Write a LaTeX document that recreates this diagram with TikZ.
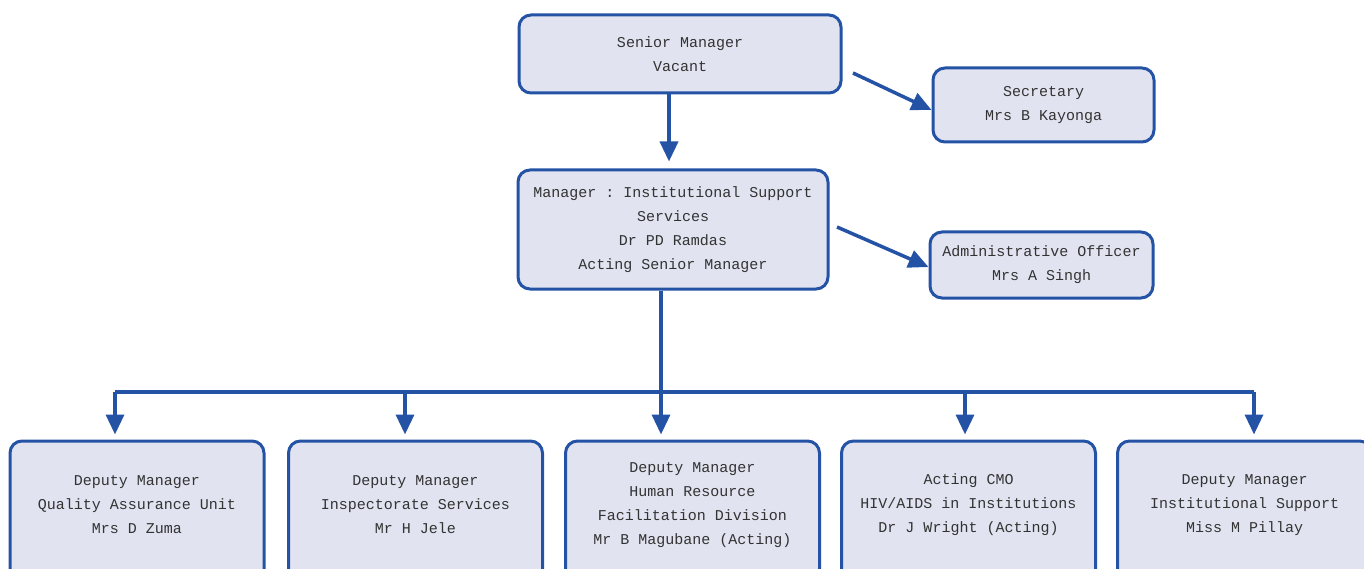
\documentclass[tikz,border=0pt]{standalone}
\usepackage{fontspec}
\setmonofont{Liberation Mono}
\usetikzlibrary{arrows.meta}
\definecolor{orgblue}{HTML}{2453A6}
\definecolor{orgfill}{HTML}{E1E3F0}
\definecolor{orgtext}{HTML}{333333}
\tikzset{
  box/.style={draw=orgblue, fill=orgfill, line width=3pt, rounded corners=12pt, inner sep=0pt},
  label text/.style={text=orgtext, align=center, inner sep=0pt,
    font=\ttfamily\fontsize{15}{24}\selectfont},
  link/.style={draw=orgblue, line width=3.5pt, -{Triangle[length=20pt,width=18pt]}},
  bus/.style={draw=orgblue, line width=3.5pt}
}
\begin{document}
\begin{tikzpicture}[x=1pt,y=-1pt]
  \useasboundingbox (0,0) rectangle (1364,569);
  \clip (0,0) rectangle (1364,569);

  % upper management
  \node[box, minimum width=322, minimum height=78] (sm) at (680,54) {};
  \node[label text] (smt) at (sm.center) {Senior Manager\\Vacant};

  \node[box, minimum width=221, minimum height=74] (sec) at (1043.5,105) {};
  \node[label text] (sect) at (sec.center) {Secretary\\Mrs B Kayonga};

  \node[box, minimum width=310, minimum height=119] (mis) at (673,229.5) {};
  \node[label text] (mist) at (mis.center) {Manager : Institutional Support\\Services\\Dr PD Ramdas\\Acting Senior Manager};

  \node[box, minimum width=223, minimum height=66] (adm) at (1041.5,265) {};
  \node[label text] (admt) at (adm.center) {Administrative Officer\\Mrs A Singh};

  % deputy level (boxes run past the lower edge)
  \foreach \n/\x in {b1/137, b2/415.5, b3/692.5, b4/968.5, b5/1244.5}
    \node[box, minimum width=254, minimum height=160] (\n) at (\x,521) {};

  \node[label text] (t1) at (137,505) {Deputy Manager\\Quality Assurance Unit\\Mrs D Zuma};
  \node[label text] (t2) at (415.5,505) {Deputy Manager\\Inspectorate Services\\Mr H Jele};
  \node[label text] (t3) at (692.5,505) {Deputy Manager\\Human Resource\\Facilitation Division\\Mr B Magubane (Acting)};
  \node[label text] (t4) at (968.5,505) {Acting CMO\\HIV/AIDS in Institutions\\Dr J Wright (Acting)};
  \node[label text] (t5) at (1244.5,505) {Deputy Manager\\Institutional Support\\Miss M Pillay};

  % connectors (yshift is in page direction: positive moves up)
  \draw[link] (sm.south -| 669,0) -- ([yshift=7]mis.north -| 669,0);
  \coordinate (s1) at (853,73);
  \draw[link] (s1) -- ([yshift=-5]sec.west);
  \coordinate (s2) at (837,227);
  \draw[link] (s2) -- ([yshift=-2]adm.west);

  \coordinate (d1) at (115,392);
  \coordinate (d2) at (405,392);
  \coordinate (d3) at (661,392);
  \coordinate (d4) at (965,392);
  \coordinate (d5) at (1254,392);
  \draw[bus] (d1) -- (d5);
  \draw[link] (mis.south -| d3) -- ([yshift=5]b3.north -| d3);
  \foreach \d/\b in {d1/b1, d2/b2, d4/b4, d5/b5}
    \draw[link] (\d) -- ([yshift=5]\b.north -| \d);
\end{tikzpicture}
\end{document}
